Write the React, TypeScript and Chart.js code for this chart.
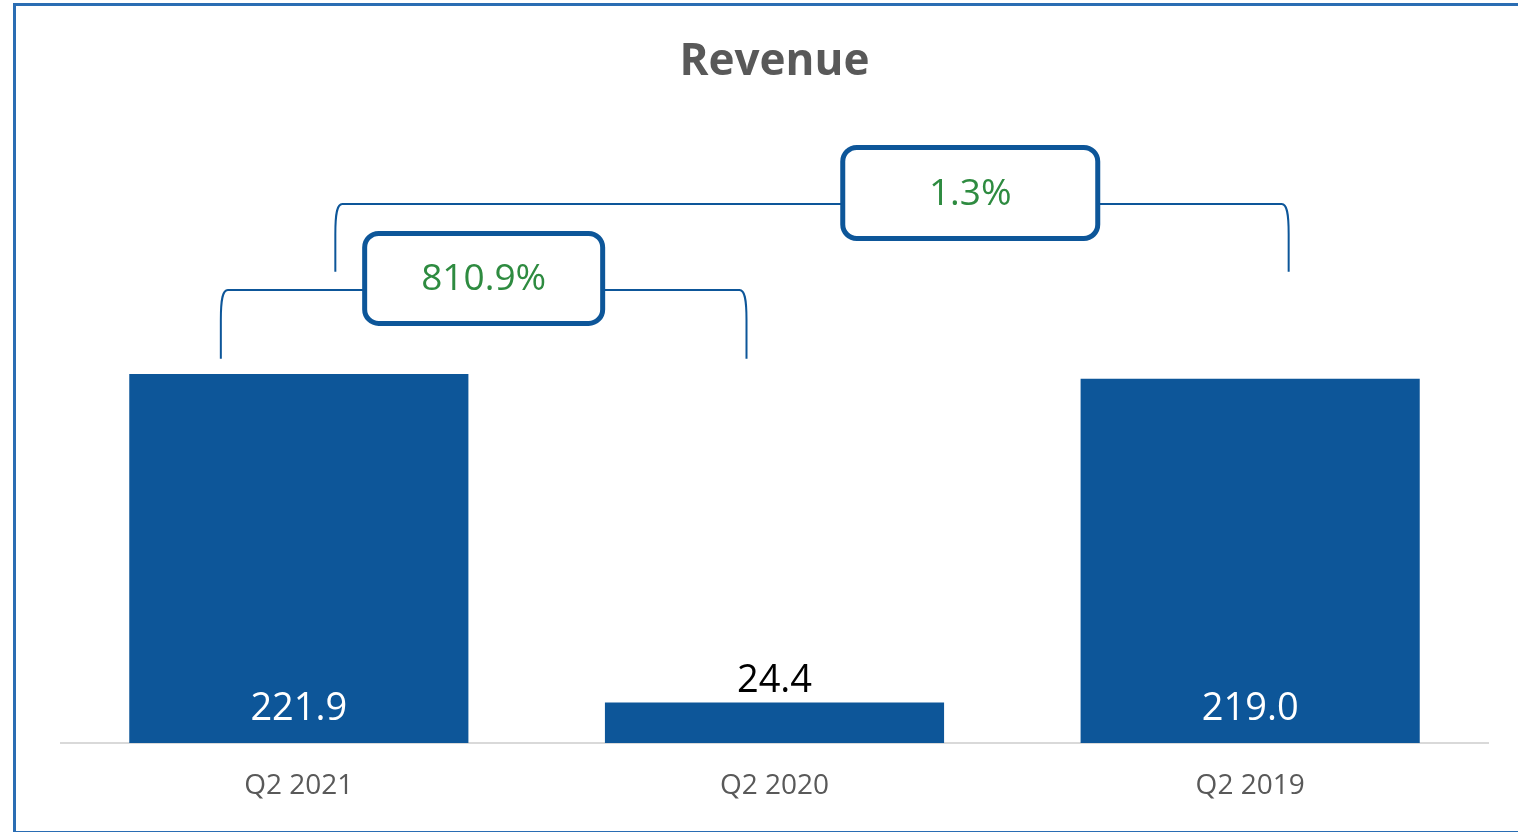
import React, { useEffect, useRef } from "react";
import { Chart, registerables } from "chart.js";

Chart.register(...registerables);

// ---- data ----
const categories = ["Q2 2021", "Q2 2020", "Q2 2019"];
const revenue = [221.9, 24.4, 219.0];
const valueLabels = ["221.9", "24.4", "219.0"];

// growth comparisons (from bar index -> to bar index)
const growthLabels = ["810.9%", "1.3%"];
const growthFrom = [0, 0];
const growthTo = [1, 2];
const bracketLevels = [272.4, 324.1]; // value level of the horizontal bracket line
const bracketEnds = [231.0, 283.4]; // value level where bracket legs end

// ---- styles ----
const BAR_COLOR = "#0d5699";
const GREEN = "#2e8b40";
const FONT = "'Open Sans', 'Noto Sans', sans-serif";
const bracketStyle = [
  { leftOff: -78, rightOff: -28, boxW: 238, boxH: 90, boxFrac: 0.5, boxDy: -11.5 },
  { leftOff: 36.5, rightOff: 38.5, boxW: 255, boxH: 91, boxFrac: 0.666, boxDy: -11 },
];

const annotationPlugin = {
  id: "annotations",
  beforeDraw(chart: any) {
    const ctx = chart.ctx;
    ctx.save();
    ctx.fillStyle = "#ffffff";
    ctx.fillRect(0, 0, chart.width, chart.height);
    ctx.strokeStyle = "#2a6db3";
    ctx.lineWidth = 3;
    ctx.strokeRect(14.5, 4.5, chart.width + 20, chart.height - 4);
    ctx.restore();
  },
  afterDatasetsDraw(chart: any) {
    const ctx = chart.ctx;
    const x = chart.scales.x;
    const y = chart.scales.y;
    ctx.save();
    // value labels
    ctx.font = `38px ${FONT}`;
    ctx.textAlign = "center";
    ctx.textBaseline = "alphabetic";
    const base = y.getPixelForValue(0);
    revenue.forEach((v, i) => {
      const cx = x.getPixelForValue(i);
      const top = y.getPixelForValue(v);
      if (base - top > 80) {
        ctx.fillStyle = "#ffffff";
        ctx.fillText(valueLabels[i], cx, base - 23);
      } else {
        ctx.fillStyle = "#000000";
        ctx.fillText(valueLabels[i], cx, top - 10);
      }
    });

    // brackets
    growthLabels.forEach((label, k) => {
      const st = bracketStyle[k];
      const xL = x.getPixelForValue(growthFrom[k]) + st.leftOff;
      const xR = x.getPixelForValue(growthTo[k]) + st.rightOff;
      const yH = y.getPixelForValue(bracketLevels[k]);
      const yB = y.getPixelForValue(bracketEnds[k]);
      ctx.strokeStyle = BAR_COLOR;
      ctx.lineWidth = 2;
      ctx.beginPath();
      ctx.moveTo(xL, yB);
      ctx.lineTo(xL, yH + 30);
      ctx.bezierCurveTo(xL, yH + 8, xL + 2, yH, xL + 7, yH);
      ctx.lineTo(xR - 7, yH);
      ctx.bezierCurveTo(xR - 2, yH, xR, yH + 8, xR, yH + 30);
      ctx.lineTo(xR, yB);
      ctx.stroke();

      const bcx = xL + (xR - xL) * st.boxFrac;
      const bcy = yH + st.boxDy;
      ctx.beginPath();
      ctx.roundRect(bcx - st.boxW / 2, bcy - st.boxH / 2, st.boxW, st.boxH, 14);
      ctx.fillStyle = "#ffffff";
      ctx.fill();
      ctx.lineWidth = 5;
      ctx.strokeStyle = BAR_COLOR;
      ctx.stroke();

      ctx.fillStyle = GREEN;
      ctx.font = `37px ${FONT}`;
      ctx.textAlign = "center";
      ctx.textBaseline = "middle";
      ctx.fillText(label, bcx, bcy + 1);
    });
    ctx.restore();
  },
};

export default function App() {
  const ref = useRef<HTMLCanvasElement | null>(null);
  useEffect(() => {
    if (!ref.current) return;
    const chart = new Chart(ref.current, {
      type: "bar",
      data: {
        labels: categories,
        datasets: [
          {
            data: revenue,
            backgroundColor: BAR_COLOR,
            barPercentage: 0.713,
            categoryPercentage: 1,
          },
        ],
      },
      options: {
        animation: false,
        responsive: true,
        maintainAspectRatio: false,
        layout: { padding: { left: 61, right: 30, top: 0, bottom: 0 } },
        plugins: {
          legend: { display: false },
          tooltip: { enabled: false },
          title: {
            display: true,
            text: "Revenue",
            color: "#595959",
            font: { family: FONT, size: 44, weight: "bold", lineHeight: 1.2 },
            padding: { top: 36, bottom: 22.2 },
          },
        },
        scales: {
          x: {
            grid: { display: false, drawTicks: false },
            border: { display: true, color: "#d9d9d9", width: 2 },
            ticks: {
              color: "#595959",
              font: { family: FONT, size: 28 },
              padding: 26,
            },
            afterFit: (scale: any) => {
              scale.height = 89;
            },
          },
          y: {
            display: false,
            min: 0,
            max: 380,
          },
        },
      },
      plugins: [annotationPlugin],
    });
    return () => chart.destroy();
  }, []);
  return (
    <div style={{ position: "fixed", left: 0, top: 0, width: 1518, height: 832 }}>
      <canvas ref={ref} />
    </div>
  );
}
